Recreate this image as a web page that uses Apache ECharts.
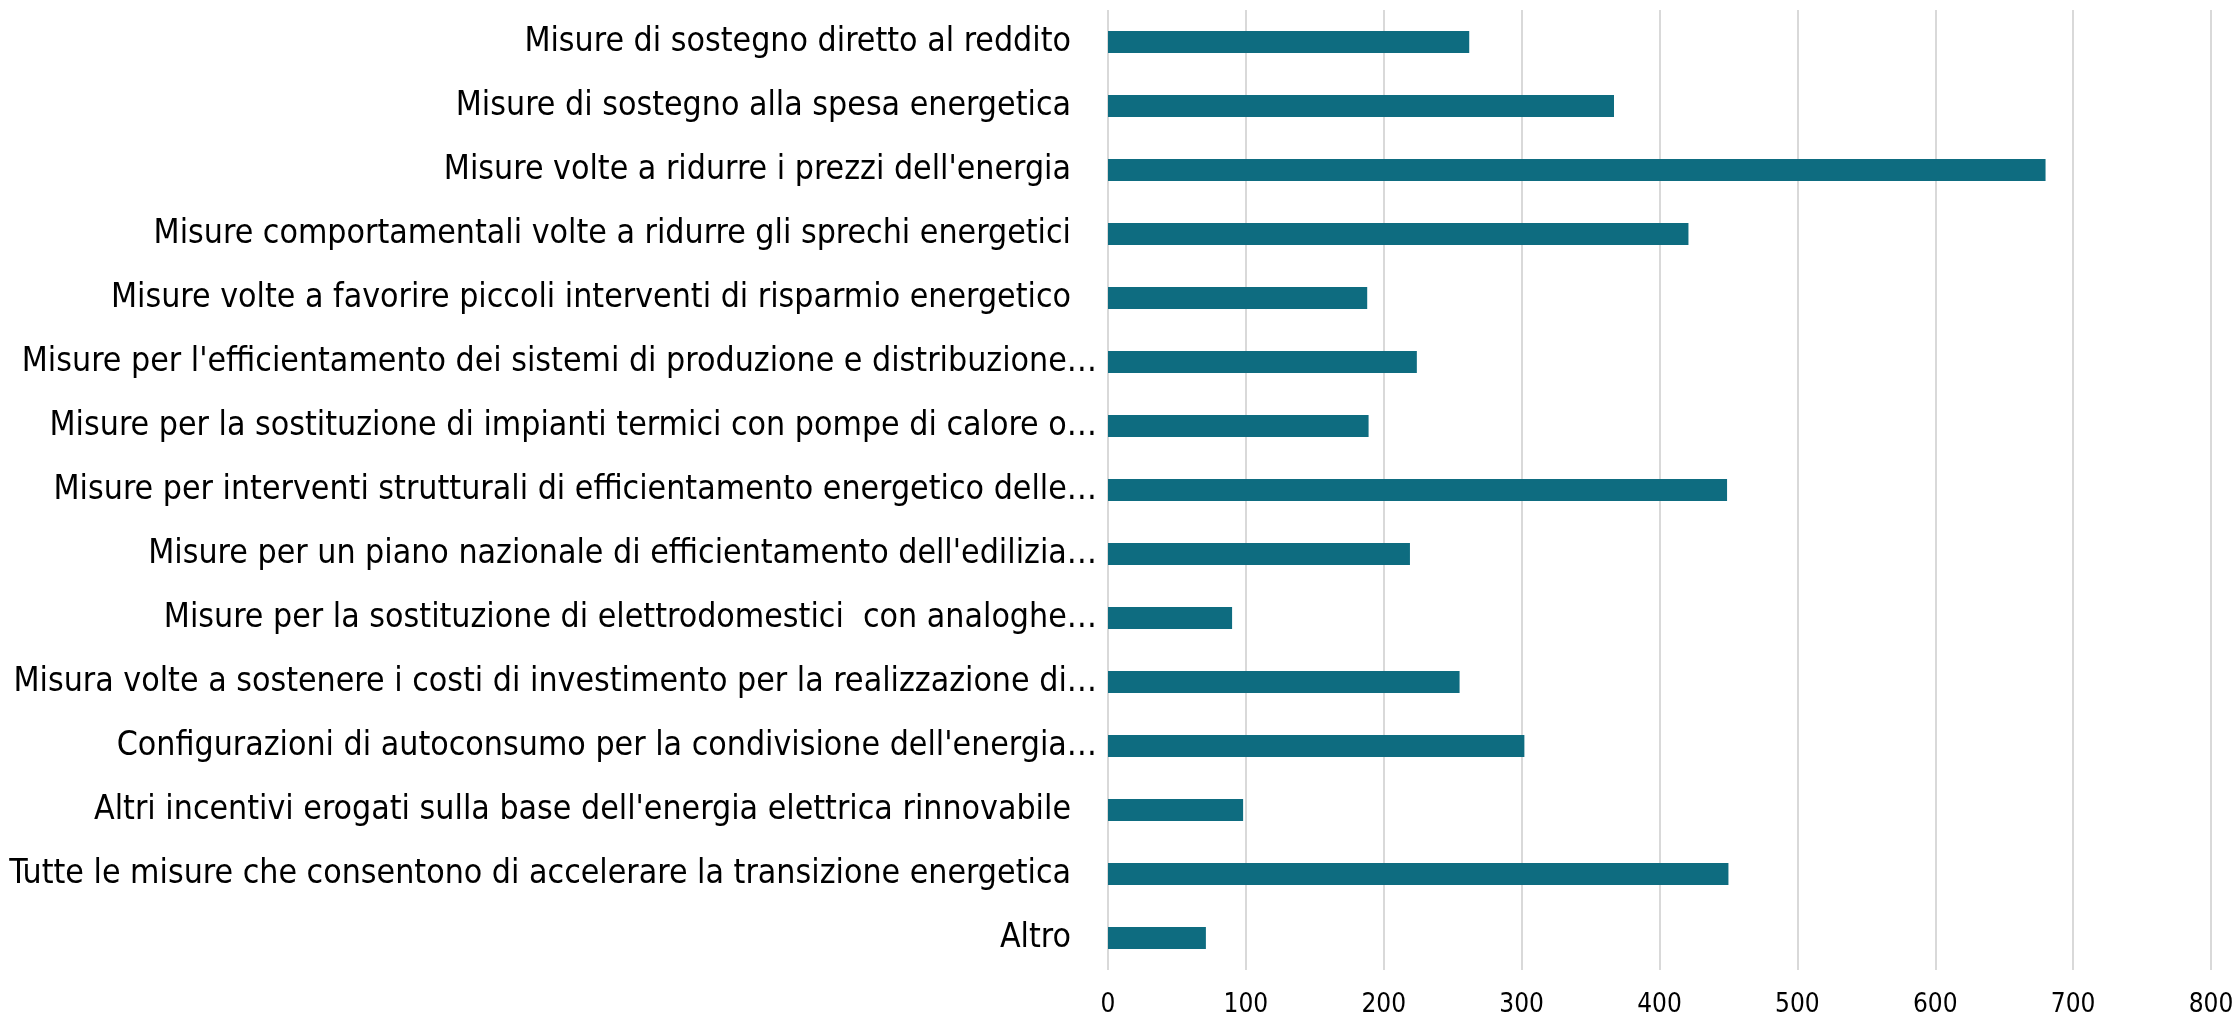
<!DOCTYPE html>
<html>
<head>
<meta charset="utf-8">
<script src="https://cdn.jsdelivr.net/npm/echarts@6/dist/echarts.min.js"></script>
<style>
html,body{margin:0;padding:0;background:#fff;}
#chart{width:2237px;height:1018px;}
</style>
</head>
<body>
<div id="chart"></div>
<script>
const categories = [
  "Misure di sostegno diretto al reddito",
  "Misure di sostegno alla spesa energetica",
  "Misure volte a ridurre i prezzi dell'energia",
  "Misure comportamentali volte a ridurre gli sprechi energetici",
  "Misure volte a favorire piccoli interventi di risparmio energetico",
  "Misure per l'efficientamento dei sistemi di produzione e distribuzione…",
  "Misure per la sostituzione di impianti termici con pompe di calore o…",
  "Misure per interventi strutturali di efficientamento energetico delle…",
  "Misure per un piano nazionale di efficientamento dell'edilizia…",
  "Misure per la sostituzione di elettrodomestici  con analoghe…",
  "Misura volte a sostenere i costi di investimento per la realizzazione di…",
  "Configurazioni di autoconsumo per la condivisione dell'energia…",
  "Altri incentivi erogati sulla base dell'energia elettrica rinnovabile",
  "Tutte le misure che consentono di accelerare la transizione energetica",
  "Altro"
];
const values = [262, 367, 680, 421, 188, 224, 189, 449, 219, 90, 255, 302, 98, 450, 71];
const xTicks = { min: 0, max: 800, interval: 100 };

const FONT = "'Liberation Sans Narrow', 'DejaVu Sans Condensed', 'Noto Sans', sans-serif";
const LABEL_SIZE = 33.6;
const chart = echarts.init(document.getElementById('chart'));
chart.setOption({
  animation: false,
  backgroundColor: '#ffffff',
  grid: { left: 1108, right: 26, top: 10, bottom: 48, containLabel: false },
  xAxis: {
    type: 'value',
    min: xTicks.min, max: xTicks.max, interval: xTicks.interval,
    axisLine: { show: false },
    axisTick: { show: false },
    splitLine: { show: true, lineStyle: { color: '#d9d9d9', width: 2 } },
    axisLabel: { color: '#000', fontSize: 26, fontFamily: FONT, margin: 22 }
  },
  yAxis: {
    type: 'category',
    data: categories,
    inverse: true,
    axisLine: { show: false },
    axisTick: { show: false },
    axisLabel: {
      color: '#000', fontSize: LABEL_SIZE, fontFamily: FONT, margin: 11,
      formatter: function (v) { return v.endsWith('…') ? '{t|' + v + '}' : '{f|' + v + '}'; },
      rich: {
        t: { color: '#000', fontSize: LABEL_SIZE, fontFamily: FONT },
        f: { color: '#000', fontSize: LABEL_SIZE, fontFamily: FONT, padding: [0, 26, 0, 0] }
      }
    }
  },
  series: [{
    type: 'bar',
    data: values,
    barWidth: 22,
    itemStyle: { color: '#0e6c80' }
  }]
});
</script>
</body>
</html>
